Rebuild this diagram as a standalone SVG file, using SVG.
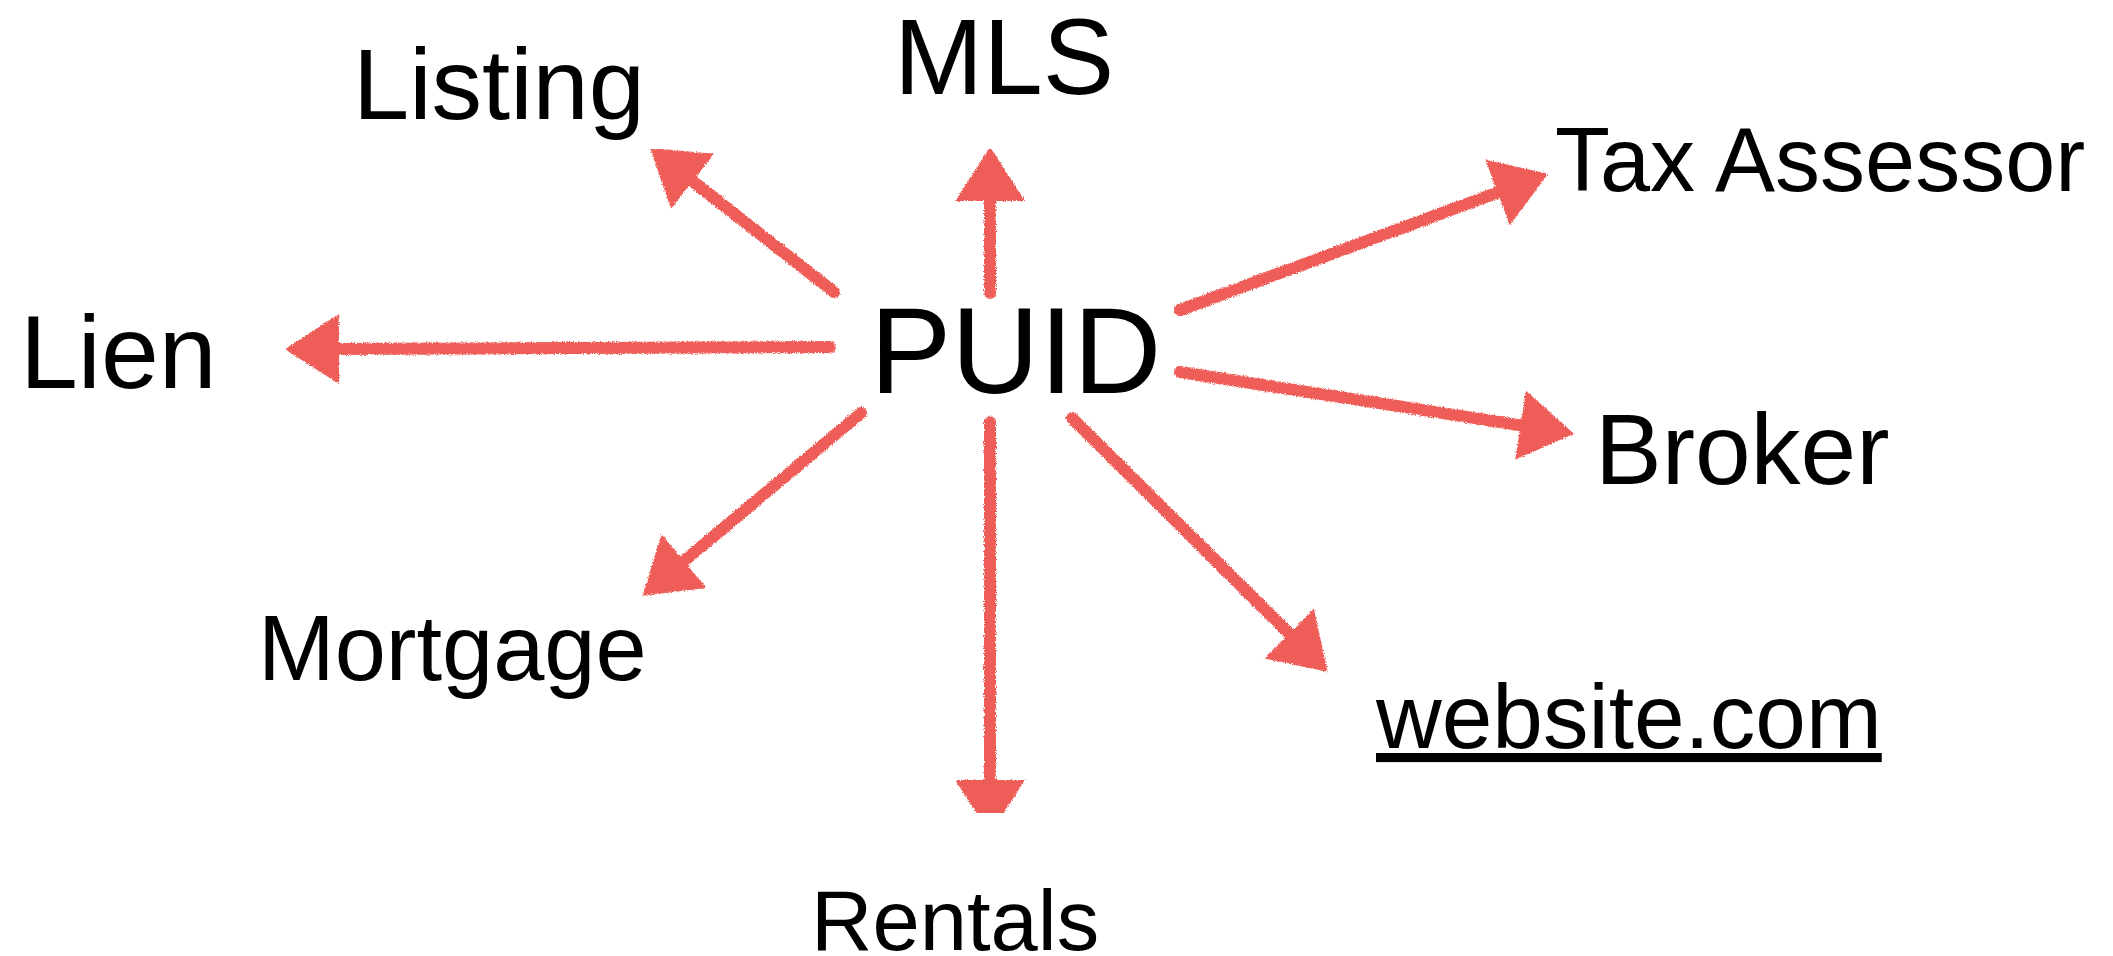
<svg xmlns="http://www.w3.org/2000/svg" width="2113" height="956" viewBox="0 0 2113 956">
<style>
.lbl{font-family:"Liberation Sans",Arial,Helvetica,sans-serif;fill:#000}
.arr{stroke:#EE5D58;stroke-width:12;fill:none;stroke-linecap:round;marker-end:url(#head)}
</style>
<defs>
<marker id="head" markerUnits="userSpaceOnUse" markerWidth="60" markerHeight="74" refX="2" refY="35" orient="auto" overflow="visible">
<path d="M0,0 L54,35 L0,70 Z" fill="#EE5D58"/>
</marker>
<filter id="rough" x="-5%" y="-5%" width="110%" height="110%">
<feTurbulence type="fractalNoise" baseFrequency="0.9" numOctaves="2" seed="3" result="n"/>
<feDisplacementMap in="SourceGraphic" in2="n" scale="4" xChannelSelector="R" yChannelSelector="G"/>
</filter>
</defs>
<rect width="2113" height="956" fill="#fff"/>
<g id="connectors" filter="url(#rough)">
<line class="arr" x1="834" y1="292" x2="691" y2="180"/>
<line class="arr" x1="990" y1="293" x2="990" y2="199"/>
<line class="arr" x1="830" y1="347" x2="337" y2="349"/>
<line class="arr" x1="1180" y1="310" x2="1499.4" y2="191.8"/>
<line class="arr" x1="1180" y1="372" x2="1522.6" y2="425.6"/>
<line class="arr" x1="861" y1="413" x2="682.4" y2="562.4"/>
<line class="arr" x1="990" y1="422" x2="990" y2="782"/>
<line class="arr" x1="1072" y1="418" x2="1290.7" y2="635"/>
</g>
<g id="puid"><text class="lbl" x="870" y="393" font-size="122">PUID</text></g>
<g id="mls"><text class="lbl" x="894" y="94" font-size="107">MLS</text></g>
<g id="listing"><text class="lbl" x="353" y="119" font-size="101">Listing</text></g>
<g id="lien"><text class="lbl" x="20" y="388" font-size="104">Lien</text></g>
<g id="tax-assessor"><text class="lbl" x="1555" y="191" font-size="90">Tax Assessor</text></g>
<g id="broker"><text class="lbl" x="1595" y="484" font-size="100">Broker</text></g>
<g id="mortgage"><text class="lbl" x="258" y="680" font-size="92">Mortgage</text></g>
<g id="rentals"><text class="lbl" x="811" y="950" font-size="85">Rentals</text></g>
<g id="website"><text class="lbl" x="1376" y="748" font-size="91" text-decoration="underline">website.com</text></g>
</svg>
